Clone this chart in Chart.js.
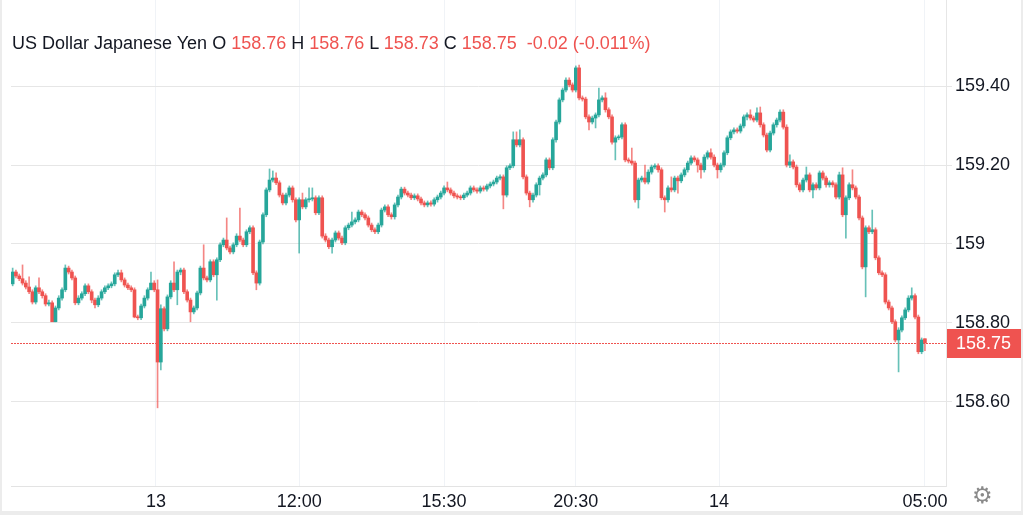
<!DOCTYPE html>
<html>
<head>
<meta charset="utf-8">
<script src="https://cdn.jsdelivr.net/npm/chart.js@4.4.1/dist/chart.umd.min.js"></script>
<style>
  html, body { margin: 0; padding: 0; background: #fff; }
  #frame { position: absolute; left: 0; top: 0; width: 1023px; height: 515px; box-sizing: border-box;
           border-left: 2px solid #ececec; border-right: 2px solid #ececec; border-bottom: 4px solid #ececec; }
  #frame canvas { display: block; }
  #legend { position: absolute; left: 12px; top: 33px; font: 18px "Liberation Sans", Arial, sans-serif;
            color: #131722; white-space: pre; }
  #legend .v { color: #ef5350; }
  #gear { position: absolute; left: 972px; top: 482px; font: 23px "DejaVu Sans", sans-serif; color: #8a8a8a; }
</style>
</head>
<body>
<div id="frame"><canvas id="chart" width="1019" height="511"></canvas></div>
<div id="legend">US Dollar Japanese Yen O <span class="v">158.76</span> H <span class="v">158.76</span> L <span class="v">158.73</span> C <span class="v">158.75</span>  <span class="v">-0.02 (-0.011%)</span></div>
<div id="gear">⚙</div>
<script>
// USD/JPY candles
var opens = [
  158.899, 158.929, 158.919, 158.912, 158.901, 158.891, 158.879, 158.853, 158.889, 158.879,
  158.869, 158.848, 158.851, 158.803, 158.838, 158.863, 158.884, 158.939, 158.929, 158.914,
  158.851, 158.863, 158.874, 158.894, 158.879, 158.858, 158.846, 158.863, 158.879, 158.889,
  158.894, 158.899, 158.922, 158.927, 158.909, 158.896, 158.889, 158.884, 158.815, 158.813,
  158.843, 158.863, 158.884, 158.901, 158.884, 158.701, 158.836, 158.785, 158.866, 158.901,
  158.884, 158.929, 158.934, 158.879, 158.858, 158.828, 158.838, 158.876, 158.939, 158.914,
  158.909, 158.955, 158.922, 158.960, 158.998, 159.010, 158.990, 158.980, 158.998, 159.020,
  159.010, 158.998, 159.031, 159.041, 158.927, 158.901, 159.005, 159.074, 159.137, 159.162,
  159.167, 159.155, 159.124, 159.104, 159.124, 159.142, 159.112, 159.061, 159.112, 159.094,
  159.112, 159.114, 159.117, 159.079, 159.117, 159.020, 159.010, 158.993, 159.010, 159.028,
  159.015, 159.003, 159.041, 159.048, 159.056, 159.061, 159.081, 159.074, 159.066, 159.048,
  159.036, 159.031, 159.048, 159.086, 159.094, 159.074, 159.069, 159.099, 159.119, 159.139,
  159.129, 159.124, 159.117, 159.122, 159.114, 159.104, 159.099, 159.104, 159.101, 159.112,
  159.119, 159.129, 159.142, 159.137, 159.129, 159.122, 159.119, 159.117, 159.124, 159.129,
  159.142, 159.137, 159.134, 159.142, 159.139, 159.147, 159.152, 159.157, 159.167, 159.170,
  159.124, 159.193, 159.198, 159.264, 159.251, 159.264, 159.170, 159.129, 159.112, 159.124,
  159.150, 159.167, 159.175, 159.213, 159.193, 159.264, 159.309, 159.365, 159.390, 159.415,
  159.403, 159.390, 159.446, 159.370, 159.367, 159.322, 159.309, 159.319, 159.327, 159.365,
  159.370, 159.340, 159.322, 159.258, 159.269, 159.271, 159.302, 159.213, 159.210, 159.205,
  159.112, 159.162, 159.167, 159.157, 159.182, 159.195, 159.198, 159.188, 159.117, 159.112,
  159.142, 159.137, 159.167, 159.160, 159.175, 159.188, 159.205, 159.218, 159.213, 159.200,
  159.188, 159.220, 159.231, 159.220, 159.200, 159.188, 159.200, 159.231, 159.269, 159.284,
  159.289, 159.286, 159.299, 159.322, 159.327, 159.319, 159.314, 159.332, 159.302, 159.276,
  159.238, 159.281, 159.302, 159.314, 159.334, 159.296, 159.200, 159.208, 159.195, 159.150,
  159.137, 159.162, 159.175, 159.137, 159.150, 159.142, 159.180, 159.167, 159.150, 159.155,
  159.150, 159.119, 159.175, 159.074, 159.117, 159.150, 159.142, 159.119, 159.066, 158.942,
  159.041, 159.031, 159.036, 158.965, 158.927, 158.922, 158.853, 158.838, 158.803, 158.757,
  158.782, 158.813, 158.833, 158.863, 158.869, 158.815, 158.727, 158.760
];
var highs = [
  158.939, 158.934, 158.924, 158.947, 158.907, 158.917, 158.884, 158.894, 158.914, 158.884,
  158.874, 158.858, 158.856, 158.843, 158.869, 158.889, 158.947, 158.944, 158.934, 158.919,
  158.869, 158.879, 158.899, 158.899, 158.884, 158.863, 158.869, 158.884, 158.894, 158.899,
  158.904, 158.927, 158.934, 158.934, 158.914, 158.901, 158.894, 158.889, 158.820, 158.848,
  158.869, 158.889, 158.929, 158.907, 158.909, 158.846, 158.841, 158.871, 158.907, 158.955,
  158.934, 158.939, 158.939, 158.884, 158.863, 158.843, 158.881, 158.944, 158.998, 158.919,
  158.960, 158.960, 158.965, 159.003, 159.015, 159.066, 158.995, 159.003, 159.026, 159.091,
  159.015, 159.036, 159.046, 159.046, 158.932, 159.010, 159.079, 159.142, 159.190, 159.185,
  159.180, 159.160, 159.129, 159.129, 159.147, 159.147, 159.117, 159.117, 159.129, 159.117,
  159.142, 159.142, 159.122, 159.122, 159.122, 159.026, 159.015, 159.015, 159.033, 159.033,
  159.020, 159.046, 159.053, 159.081, 159.066, 159.086, 159.086, 159.079, 159.071, 159.053,
  159.041, 159.053, 159.091, 159.099, 159.099, 159.079, 159.104, 159.124, 159.144, 159.144,
  159.134, 159.129, 159.127, 159.127, 159.119, 159.109, 159.109, 159.109, 159.117, 159.124,
  159.134, 159.147, 159.157, 159.142, 159.134, 159.127, 159.124, 159.129, 159.134, 159.147,
  159.147, 159.142, 159.147, 159.147, 159.152, 159.157, 159.162, 159.172, 159.175, 159.175,
  159.198, 159.203, 159.284, 159.284, 159.289, 159.269, 159.175, 159.134, 159.129, 159.155,
  159.172, 159.180, 159.218, 159.218, 159.269, 159.314, 159.370, 159.395, 159.421, 159.421,
  159.408, 159.451, 159.453, 159.375, 159.372, 159.327, 159.324, 159.332, 159.395, 159.375,
  159.383, 159.345, 159.327, 159.274, 159.276, 159.307, 159.307, 159.218, 159.243, 159.210,
  159.167, 159.172, 159.200, 159.188, 159.200, 159.203, 159.203, 159.193, 159.122, 159.147,
  159.170, 159.172, 159.172, 159.180, 159.193, 159.210, 159.223, 159.223, 159.218, 159.205,
  159.226, 159.236, 159.241, 159.226, 159.205, 159.205, 159.236, 159.274, 159.289, 159.294,
  159.294, 159.304, 159.327, 159.332, 159.340, 159.324, 159.345, 159.347, 159.307, 159.281,
  159.286, 159.307, 159.319, 159.340, 159.340, 159.302, 159.226, 159.213, 159.200, 159.155,
  159.167, 159.195, 159.180, 159.155, 159.155, 159.185, 159.185, 159.172, 159.160, 159.160,
  159.155, 159.182, 159.193, 159.122, 159.155, 159.188, 159.147, 159.124, 159.071, 159.046,
  159.046, 159.086, 159.041, 158.970, 158.932, 158.927, 158.858, 158.843, 158.808, 158.788,
  158.818, 158.838, 158.869, 158.889, 158.874, 158.820, 158.762, 158.760
];
var lows = [
  158.894, 158.914, 158.907, 158.896, 158.886, 158.874, 158.848, 158.848, 158.874, 158.863,
  158.843, 158.843, 158.803, 158.803, 158.833, 158.858, 158.879, 158.924, 158.909, 158.846,
  158.846, 158.858, 158.869, 158.874, 158.851, 158.838, 158.841, 158.858, 158.874, 158.884,
  158.889, 158.894, 158.917, 158.904, 158.891, 158.884, 158.879, 158.813, 158.808, 158.808,
  158.838, 158.858, 158.896, 158.879, 158.585, 158.681, 158.780, 158.780, 158.861, 158.879,
  158.846, 158.922, 158.874, 158.853, 158.803, 158.823, 158.833, 158.871, 158.909, 158.904,
  158.904, 158.917, 158.858, 158.955, 158.993, 158.985, 158.975, 158.975, 158.993, 159.005,
  158.993, 158.993, 159.026, 158.922, 158.884, 158.896, 159.000, 159.069, 159.132, 159.157,
  159.150, 159.119, 159.099, 159.099, 159.119, 159.106, 159.056, 158.977, 159.089, 159.089,
  159.106, 159.109, 159.074, 159.074, 159.015, 159.005, 158.988, 158.977, 159.005, 159.010,
  158.998, 158.998, 159.036, 159.043, 159.051, 159.056, 159.069, 159.061, 159.043, 159.031,
  159.026, 159.026, 159.043, 159.081, 159.069, 159.063, 159.063, 159.094, 159.114, 159.124,
  159.119, 159.112, 159.112, 159.109, 159.099, 159.094, 159.094, 159.096, 159.096, 159.106,
  159.114, 159.124, 159.132, 159.124, 159.117, 159.114, 159.112, 159.112, 159.119, 159.124,
  159.132, 159.129, 159.129, 159.134, 159.134, 159.142, 159.147, 159.152, 159.162, 159.089,
  159.119, 159.188, 159.193, 159.246, 159.246, 159.165, 159.124, 159.094, 159.106, 159.119,
  159.124, 159.162, 159.170, 159.188, 159.188, 159.258, 159.304, 159.360, 159.385, 159.398,
  159.385, 159.385, 159.365, 159.362, 159.317, 159.289, 159.304, 159.294, 159.322, 159.360,
  159.334, 159.317, 159.253, 159.213, 159.264, 159.266, 159.208, 159.205, 159.200, 159.106,
  159.091, 159.157, 159.152, 159.152, 159.177, 159.190, 159.182, 159.112, 159.081, 159.106,
  159.132, 159.132, 159.129, 159.155, 159.170, 159.182, 159.200, 159.208, 159.182, 159.167,
  159.182, 159.215, 159.215, 159.195, 159.167, 159.182, 159.195, 159.226, 159.264, 159.279,
  159.281, 159.281, 159.294, 159.314, 159.314, 159.309, 159.309, 159.296, 159.271, 159.233,
  159.233, 159.276, 159.296, 159.309, 159.291, 159.195, 159.193, 159.190, 159.144, 159.132,
  159.132, 159.157, 159.132, 159.117, 159.137, 159.137, 159.162, 159.144, 159.144, 159.144,
  159.114, 159.114, 159.069, 159.015, 159.112, 159.137, 159.114, 159.061, 158.937, 158.866,
  159.026, 159.026, 158.960, 158.922, 158.917, 158.848, 158.833, 158.798, 158.752, 158.676,
  158.777, 158.808, 158.828, 158.858, 158.810, 158.722, 158.722, 158.730
];
var closes = [
  158.929, 158.919, 158.912, 158.901, 158.891, 158.879, 158.853, 158.889, 158.879, 158.869,
  158.848, 158.851, 158.803, 158.838, 158.863, 158.884, 158.939, 158.929, 158.914, 158.851,
  158.863, 158.874, 158.894, 158.879, 158.858, 158.846, 158.863, 158.879, 158.889, 158.894,
  158.899, 158.922, 158.927, 158.909, 158.896, 158.889, 158.884, 158.815, 158.813, 158.843,
  158.863, 158.884, 158.901, 158.884, 158.701, 158.836, 158.785, 158.866, 158.901, 158.884,
  158.929, 158.934, 158.879, 158.858, 158.828, 158.838, 158.876, 158.939, 158.914, 158.909,
  158.955, 158.922, 158.960, 158.998, 159.010, 158.990, 158.980, 158.998, 159.020, 159.010,
  158.998, 159.031, 159.041, 158.927, 158.901, 159.005, 159.074, 159.137, 159.162, 159.167,
  159.155, 159.124, 159.104, 159.124, 159.142, 159.112, 159.061, 159.112, 159.094, 159.112,
  159.114, 159.117, 159.079, 159.117, 159.020, 159.010, 158.993, 159.010, 159.028, 159.015,
  159.003, 159.041, 159.048, 159.056, 159.061, 159.081, 159.074, 159.066, 159.048, 159.036,
  159.031, 159.048, 159.086, 159.094, 159.074, 159.069, 159.099, 159.119, 159.139, 159.129,
  159.124, 159.117, 159.122, 159.114, 159.104, 159.099, 159.104, 159.101, 159.112, 159.119,
  159.129, 159.142, 159.137, 159.129, 159.122, 159.119, 159.117, 159.124, 159.129, 159.142,
  159.137, 159.134, 159.142, 159.139, 159.147, 159.152, 159.157, 159.167, 159.170, 159.124,
  159.193, 159.198, 159.264, 159.251, 159.264, 159.170, 159.129, 159.112, 159.124, 159.150,
  159.167, 159.175, 159.213, 159.193, 159.264, 159.309, 159.365, 159.390, 159.415, 159.403,
  159.390, 159.446, 159.370, 159.367, 159.322, 159.309, 159.319, 159.327, 159.365, 159.370,
  159.340, 159.322, 159.258, 159.269, 159.271, 159.302, 159.213, 159.210, 159.205, 159.112,
  159.162, 159.167, 159.157, 159.182, 159.195, 159.198, 159.188, 159.117, 159.112, 159.142,
  159.137, 159.167, 159.160, 159.175, 159.188, 159.205, 159.218, 159.213, 159.200, 159.188,
  159.220, 159.231, 159.220, 159.200, 159.188, 159.200, 159.231, 159.269, 159.284, 159.289,
  159.286, 159.299, 159.322, 159.327, 159.319, 159.314, 159.332, 159.302, 159.276, 159.238,
  159.281, 159.302, 159.314, 159.334, 159.296, 159.200, 159.208, 159.195, 159.150, 159.137,
  159.162, 159.175, 159.137, 159.150, 159.142, 159.180, 159.167, 159.150, 159.155, 159.150,
  159.119, 159.175, 159.074, 159.117, 159.150, 159.142, 159.119, 159.066, 158.942, 159.041,
  159.031, 159.036, 158.965, 158.927, 158.922, 158.853, 158.838, 158.803, 158.757, 158.782,
  158.813, 158.833, 158.863, 158.869, 158.815, 158.727, 158.757, 158.750
];

// time axis labels and the candle index each one sits on
var xTickIndex = [43.5, 87, 131, 171, 214.5, 277];
var xTickLabels = ['13', '12:00', '15:30', '20:30', '14', '05:00'];
var yTickValues = [158.6, 158.8, 159, 159.2, 159.4];
var lastPrice = 158.75;

var UP = '#26a69a', DOWN = '#ef5350';
var UP_WICK = 'rgba(38,166,154,0.7)', DOWN_WICK = 'rgba(239,83,80,0.7)';

Chart.defaults.font.family = '"Liberation Sans", Arial, sans-serif';
Chart.defaults.color = '#131722';

var bodyData = [], wickData = [], bodyColors = [], wickColors = [];
for (var i = 0; i < closes.length; i++) {
    bodyData.push({ x: i, y: [opens[i], closes[i]] });
    wickData.push({ x: i, y: [lows[i], highs[i]] });
    var up = closes[i] >= opens[i];
    bodyColors.push(up ? UP : DOWN);
    wickColors.push(up ? UP_WICK : DOWN_WICK);
}

// dotted last-price line + red price tag on the axis
var lastPricePlugin = {
    id: 'lastPrice',
    beforeDatasetsDraw: function (chart) {
        var ctx = chart.ctx, area = chart.chartArea;
        var py = Math.round(chart.scales.y.getPixelForValue(lastPrice)) + 0.5;
        ctx.save();
        ctx.strokeStyle = DOWN;
        ctx.lineWidth = 1;
        ctx.setLineDash([2, 1]);
        ctx.beginPath();
        ctx.moveTo(area.left, py);
        ctx.lineTo(area.right, py);
        ctx.stroke();
        ctx.restore();
    },
    afterDraw: function (chart) {
        var ctx = chart.ctx, area = chart.chartArea;
        var py = Math.round(chart.scales.y.getPixelForValue(lastPrice));
        ctx.save();
        ctx.fillStyle = DOWN;
        ctx.fillRect(area.right + 1, py - 14, chart.width - area.right - 1, 29);
        ctx.fillStyle = '#ffffff';
        ctx.font = '18px "Liberation Sans", Arial, sans-serif';
        ctx.textBaseline = 'middle';
        ctx.textAlign = 'left';
        ctx.fillText(lastPrice.toFixed(2), area.right + 10, py + 1);
        ctx.restore();
    }
};

new Chart(document.getElementById('chart'), {
    type: 'bar',
    data: {
        datasets: [
            { data: bodyData, backgroundColor: bodyColors, barThickness: 3, minBarLength: 1, grouped: false, borderWidth: 0 },
            { data: wickData, backgroundColor: wickColors, barThickness: 1, minBarLength: 1, grouped: false, borderWidth: 0 }
        ]
    },
    options: {
        responsive: false,
        animation: false,
        devicePixelRatio: 1,
        layout: { padding: { left: 9, right: 0, top: 0, bottom: 0 } },
        plugins: { legend: { display: false }, tooltip: { enabled: false } },
        scales: {
            x: {
                type: 'linear',
                min: -0.5,
                max: 283.4,
                offset: false,
                afterBuildTicks: function (s) { s.ticks = xTickIndex.map(function (v) { return { value: v }; }); },
                afterFit: function (s) { s.height = 25; s.paddingLeft = 0; s.paddingRight = 0; },
                grid: { color: '#f0f3f7', drawTicks: false, offset: false },
                border: { color: '#e3e3e3' },
                ticks: {
                    padding: 5, maxRotation: 0, autoSkip: false, font: { size: 18 },
                    callback: function (v, i) { return xTickLabels[i]; }
                }
            },
            y: {
                position: 'right',
                min: 158.387,
                max: 159.618,
                afterBuildTicks: function (s) { s.ticks = yTickValues.map(function (v) { return { value: v }; }); },
                afterFit: function (s) { s.width = 75; s.paddingTop = 0; s.paddingBottom = 0; },
                grid: { color: '#e6e6e6', tickLength: 6 },
                border: { color: '#e6e6e6' },
                ticks: {
                    padding: 3, font: { size: 18 },
                    callback: function (v) { return v === 159 ? '159' : v.toFixed(2); }
                }
            }
        }
    },
    plugins: [lastPricePlugin]
});
</script>
</body>
</html>
